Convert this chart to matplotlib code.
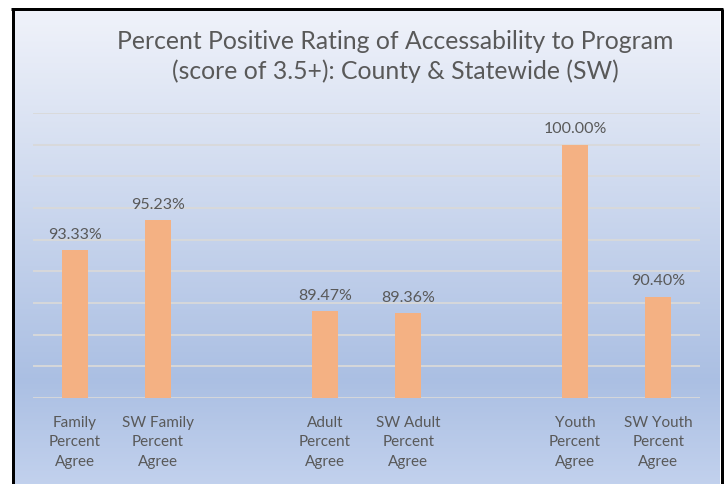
import numpy as np
import matplotlib as mpl
from matplotlib import pyplot as plt
from matplotlib.lines import Line2D

plt.rcParams["font.family"] = ["Lato", "DejaVu Sans"]

categories = ["Family\nPercent\nAgree", "SW Family\nPercent\nAgree", "",
              "Adult\nPercent\nAgree", "SW Adult\nPercent\nAgree", "",
              "Youth\nPercent\nAgree", "SW Youth\nPercent\nAgree"]
values = [93.33, 95.23, None, 89.47, 89.36, None, 100.00, 90.40]
title = ("Percent Positive Rating of Accessability to Program\n"
         "(score of 3.5+): County & Statewide (SW)")

W, H = 728, 485
fig = plt.figure(figsize=(W / 100, H / 100), dpi=100)
fig.patch.set_facecolor("white")

# gradient background inside the frame
bg = fig.add_axes([14 / W, 0, (720 - 14) / W, (H - 11) / H])
stops = [0.0, 0.78, 1.0]
cols = np.array([[0.94, 0.95, 0.98], [0.67, 0.75, 0.89], [0.76, 0.82, 0.93]])
t = np.linspace(0, 1, 300)
grad = np.stack([np.interp(t, stops, cols[:, i]) for i in range(3)], axis=1)
bg.imshow(grad[:, None, :], aspect="auto", extent=[0, 1, 0, 1])
bg.set_axis_off()

# black frame (left, top, right)
for xs, ys in [([12.5, 12.5], [0, H - 9.5]),
               ([11, 723], [H - 9.5, H - 9.5]),
               ([721.5, 721.5], [0, H - 9.5])]:
    fig.add_artist(Line2D(np.array(xs) / W, np.array(ys) / H, color="black",
                          lw=3 * 0.72, transform=fig.transFigure, solid_capstyle="butt"))

ax = fig.add_axes([33 / W, (H - 399) / H, (700 - 33) / W, (399 - 114) / H])
ax.patch.set_alpha(0)
x = np.arange(len(categories))
for xi, v in zip(x, values):
    if v is None:
        continue
    ax.bar(xi, v - 84, bottom=84, width=0.31, color="#F4B183", zorder=3)
    ax.text(xi, v + 0.6, f"{v:.2f}%", ha="center", va="bottom",
            fontsize=11.5, color="#595959")

ax.set_xlim(-0.5, len(categories) - 0.5)
ax.set_ylim(84, 102)
ax.set_yticks(np.arange(84, 103, 2))
ax.yaxis.grid(True, color="#D9D9D9", lw=1.3)
ax.tick_params(axis="y", length=0, labelleft=False)
ax.set_xticks(x)
ax.set_xticklabels(categories, fontsize=11, color="#595959", linespacing=1.5)
ax.tick_params(axis="x", length=0, pad=12)
for s in ax.spines.values():
    s.set_visible(False)

fig.text(395 / W, 1 - 56.5 / H, title, ha="center", va="center", fontsize=17.8,
         color="#595959", linespacing=1.35)

fig.savefig("out.png", dpi=100)
